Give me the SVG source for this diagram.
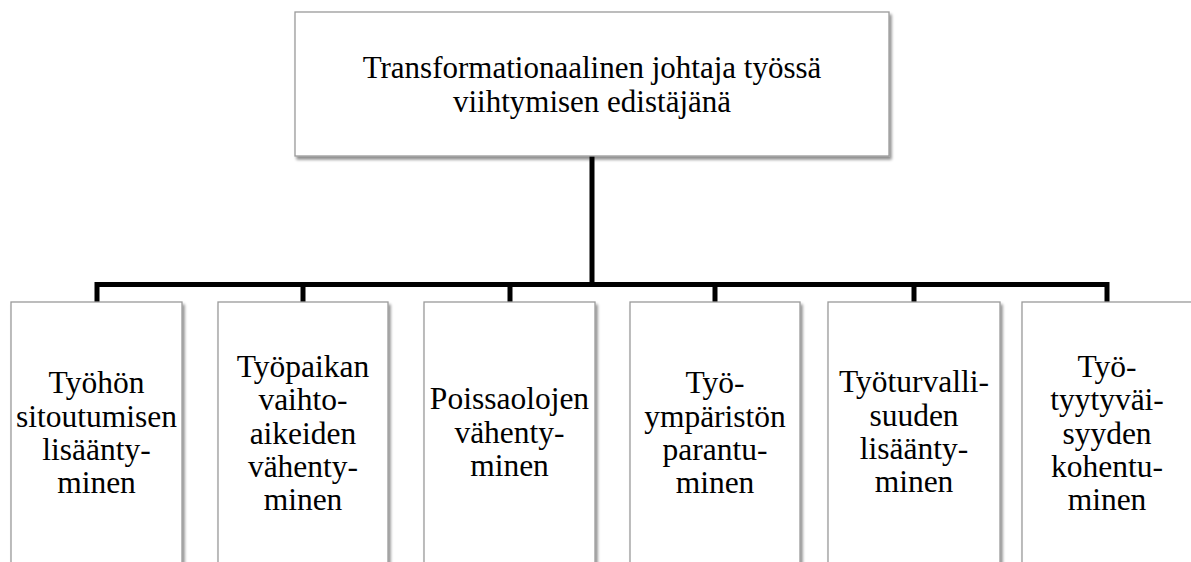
<svg xmlns="http://www.w3.org/2000/svg" width="1191" height="562" viewBox="0 0 1191 562">
  <style>
    .box { fill: #ffffff; stroke: #9a9a9a; stroke-width: 1.3; filter: url(#shadow); }
    text { font-family: 'Liberation Serif', 'Times New Roman', Times, Tinos, 'Noto Serif', 'DejaVu Serif', 'Nimbus Roman', 'Nimbus Roman No9 L', FreeSerif, serif; fill: #000; text-anchor: middle; }
    .title { font-size: 31px; }
    .label { font-size: 31.5px; }
    .conn { fill: none; stroke: #000; stroke-width: 5; stroke-linejoin: miter; stroke-linecap: butt; }
  </style>
  <defs>
    <filter id="shadow" x="-10%" y="-10%" width="130%" height="130%">
      <feGaussianBlur in="SourceAlpha" stdDeviation="1.6"/>
      <feOffset dx="1.5" dy="2.5" result="blur"/>
      <feComponentTransfer><feFuncA type="linear" slope="0.45"/></feComponentTransfer>
      <feMerge><feMergeNode/><feMergeNode in="SourceGraphic"/></feMerge>
    </filter>
  </defs>
  <rect width="1191" height="562" fill="#ffffff"/>

  <!-- connectors -->
  <g id="connectors">
    <path class="conn" d="M592,156 V284.5"/>
    <path class="conn" d="M97,302 V284.5 H1107 V302"/>
    <path class="conn" d="M303,284.5 V302"/>
    <path class="conn" d="M510,284.5 V302"/>
    <path class="conn" d="M715,284.5 V302"/>
    <path class="conn" d="M914,284.5 V302"/>
  </g>

  <g id="root">
    <rect class="box" x="295" y="12" width="594" height="144"/>
    <text class="title" x="592" y="78">Transformationaalinen johtaja työssä</text>
    <text class="title" x="592" y="112">viihtymisen edistäjänä</text>
  </g>

  <g id="n1">
    <rect class="box" x="11" y="302" width="171" height="280"/>
    <text class="label" x="96.5" y="393">Työhön</text>
    <text class="label" x="96.5" y="426.5">sitoutumisen</text>
    <text class="label" x="96.5" y="460">lisäänty-</text>
    <text class="label" x="96.5" y="493">minen</text>
  </g>

  <g id="n2">
    <rect class="box" x="218" y="302" width="170" height="280"/>
    <text class="label" x="303" y="377">Työpaikan</text>
    <text class="label" x="303" y="410">vaihto-</text>
    <text class="label" x="303" y="443.5">aikeiden</text>
    <text class="label" x="303" y="477">vähenty-</text>
    <text class="label" x="303" y="510">minen</text>
  </g>

  <g id="n3">
    <rect class="box" x="424" y="302" width="171" height="280"/>
    <text class="label" x="509.5" y="409">Poissaolojen</text>
    <text class="label" x="509.5" y="442.5">vähenty-</text>
    <text class="label" x="509.5" y="476">minen</text>
  </g>

  <g id="n4">
    <rect class="box" x="630" y="302" width="170" height="280"/>
    <text class="label" x="715" y="393">Työ-</text>
    <text class="label" x="715" y="426.5">ympäristön</text>
    <text class="label" x="715" y="460">parantu-</text>
    <text class="label" x="715" y="493">minen</text>
  </g>

  <g id="n5">
    <rect class="box" x="828" y="302" width="172" height="280"/>
    <text class="label" x="914" y="392">Työturvalli-</text>
    <text class="label" x="914" y="425.5">suuden</text>
    <text class="label" x="914" y="459">lisäänty-</text>
    <text class="label" x="914" y="492">minen</text>
  </g>

  <g id="n6">
    <rect class="box" x="1022" y="302" width="171" height="280"/>
    <text class="label" x="1107" y="377">Työ-</text>
    <text class="label" x="1107" y="410">tyytyväi-</text>
    <text class="label" x="1107" y="443.5">syyden</text>
    <text class="label" x="1107" y="477">kohentu-</text>
    <text class="label" x="1107" y="510">minen</text>
  </g>
</svg>
